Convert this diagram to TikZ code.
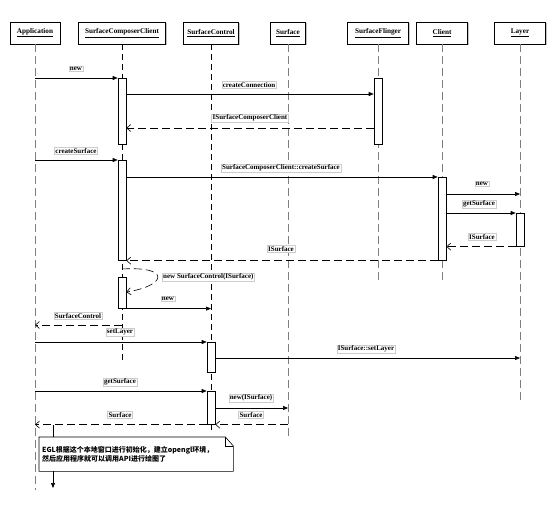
\documentclass[tikz,border=0pt]{standalone}
\usepackage{fontspec}
\setmainfont{Liberation Serif}
\newfontfamily\cjk{Noto Sans CJK SC}
\usetikzlibrary{arrows.meta}
\usetikzlibrary{calc}
\usetikzlibrary{shadows}

\begin{document}
\begin{tikzpicture}[x=1pt,y=-1pt,
  head/.style={draw,fill=white,minimum height=22pt,inner sep=1pt,font=\fontsize{7.2}{8}\selectfont\bfseries,drop shadow={shadow xshift=1.2pt,shadow yshift=-1.2pt,fill=black!45}},
  life/.style={draw=black!50,line width=1pt,dash pattern=on 8pt off 4pt},
  lifeb/.style={draw=black,line width=0.6pt,dash pattern=on 6pt off 4pt},
  act/.style={draw,fill=white,line width=0.6pt,minimum width=8pt,inner sep=0pt,anchor=north},
  call/.style={line width=0.6pt,-{Triangle[length=5pt,width=4pt]}},
  ret/.style={line width=0.6pt,dash pattern=on 8pt off 4pt,-{Straight Barb[length=4pt,width=7pt]}},
  msg/.style={draw=black!20,fill=white,inner sep=1pt,font=\fontsize{7}{8}\selectfont\bfseries}]
\useasboundingbox (0,0) rectangle (554,509);
\draw (35,33) node (app) [head,minimum width=50pt] {\underline{Application}};
\draw (122,33) node (scc) [head,minimum width=87pt] {\underline{SurfaceComposerClient}};
\draw (211,33) node (sc) [head,minimum width=55pt] {\underline{SurfaceControl}};
\draw (288,33) node (surf) [head,minimum width=35pt] {\underline{Surface}};
\draw (378,33) node (sf) [head,minimum width=61pt] {\underline{SurfaceFlinger}};
\draw (442,33) node (client) [head,minimum width=51pt] {\underline{Client}};
\draw (520,33) node (layer) [head,minimum width=51pt] {\underline{Layer}};
\coordinate (append) at (35,490);
\coordinate (sccend) at (122,360);
\coordinate (scend) at (211,432);
\coordinate (surfend) at (288,437);
\coordinate (sfend) at (378,283);
\coordinate (clientend) at (442,283);
\coordinate (layerend) at (520,403);
\draw[life] (app.south) -- (append);
\draw[lifeb] (scc.south) -- (sccend);
\draw[lifeb] (sc.south) -- (scend);
\draw[life] (surf.south) -- (surfend);
\draw[life] (sf.south) -- (sfend);
\draw[life] (client.south) -- (clientend);
\draw[life] (layer.south) -- (layerend);
\draw (122,78) node (a1) [act,minimum height=66pt] {};
\draw (378,78) node (a2) [act,minimum height=66pt] {};
\draw (122,160) node (a3) [act,minimum height=100pt] {};
\draw (442,177) node (a4) [act,minimum height=83pt] {};
\draw (520,213) node (a5) [act,minimum height=33pt] {};
\draw (122,277) node (a6) [act,minimum height=31pt] {};
\draw (211,342) node (a7) [act,minimum height=30pt] {};
\draw (211,391) node (a8) [act,minimum height=33pt] {};
\draw[call] (app |- a1.north) -- (a1.north west);
\draw (76,69) node (lnew) [msg] {new};
\draw[call] (a1.east |- 0,94) -- (a2.west |- 0,94);
\draw (249,85) node (lconn) [msg] {createConnection};
\draw[ret] (a2.west |- 0,128) -- (a1.east |- 0,128);
\draw (250,118) node (lisc) [msg] {ISurfaceComposerClient};
\draw[call] (app |- a3.north) -- (a3.north west);
\draw (76,151) node (lcreate) [msg] {createSurface};
\draw[call] (a3.east |- a4.north) -- (a4.north west);
\draw (281,168) node (lscccreate) [msg] {SurfaceComposerClient::createSurface};
\draw[call] (a4.east |- 0,194) -- (layer |- 0,194);
\draw (482,184) node (lnewlayer) [msg] {new};
\draw[call] (a4.east |- a5.north) -- (a5.north west);
\draw (479,204) node (lgetlayer) [msg] {getSurface};
\draw[ret] (a5.south west) -- (a4.east |- a5.south);
\draw (482,237) node (lislayer) [msg] {ISurface};
\draw[ret] (a4.south west) -- (a3.south east);
\draw (281,249) node (lisclient) [msg] {ISurface};
\draw[ret] (scc |- 0,269) .. controls (172,266) and (166,286) .. (a6.east |- 0,292);
\draw (162,277) node (lself) [msg,anchor=west] {new SurfaceControl(ISurface)};
\draw[call] (a6.south east) -- (sc |- a6.south);
\draw (168,299) node (lnewsc) [msg] {new};
\draw[ret] (scc |- 0,325) -- (app |- 0,325);
\draw (78,316) node (lsc) [msg] {SurfaceControl};
\draw[call] (app |- a7.north) -- (a7.north west);
\draw (120,332) node (lset) [msg] {setLayer};
\draw[call] (a7.east |- 0,358) -- (layer |- 0,358);
\draw (366,349) node (lisset) [msg] {ISurface::setLayer};
\draw[call] (app |- a8.north) -- (a8.north west);
\draw (120,382) node (lget) [msg] {getSurface};
\draw[call] (a8.east |- 0,408) -- (surf |- 0,408);
\draw (251,398) node (lnewsurf) [msg] {new(ISurface)};
\draw[ret] (surf |- a8.south) -- (a8.south east);
\draw (251,415) node (lsurfr) [msg] {Surface};
\draw[ret] (a8.south west) -- (app |- a8.south);
\draw (120,415) node (lsurfl) [msg] {Surface};
\draw (39,437) node (note) [anchor=north west,minimum height=34pt,text width=188pt,inner sep=3pt,align=left,font=\cjk\fontsize{7}{9.5}\selectfont\bfseries] {EGL根据这个本地窗口进行初始化，建立opengl环境，\\然后应用程序就可以调用API进行绘图了};
\draw[line width=0.6pt] (note.north west) -- ($(note.north east)+(-8,0)$) -- ($(note.north east)+(0,9)$) -- (note.south east) -- (note.south west) -- cycle;
\draw[line width=0.6pt] ($(note.north east)+(-8,0)$) -- ($(note.north east)+(-8,9)$) -- ($(note.north east)+(0,9)$);
\draw[line width=0.6pt] (note.north west) ++(14,0) coordinate (nt) -- (nt |- a8.south);
\coordinate (noteend) at (53,488);
\draw[call] (note.south west) ++(14,0) -- (noteend);
\end{tikzpicture}
\end{document}
